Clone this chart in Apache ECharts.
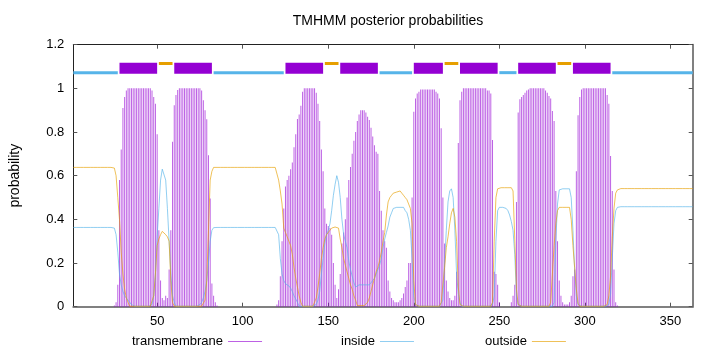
<!DOCTYPE html>
<html><head><meta charset="utf-8">
<script src="https://cdn.jsdelivr.net/npm/echarts@6/dist/echarts.min.js"></script>
<style>html,body{margin:0;padding:0;background:#fff}#c{width:720px;height:352px}</style>
</head><body><div id="c"></div>
<script>
const chartTitle = 'TMHMM posterior probabilities';
const yName = 'probability';
const seriesNames = ['transmembrane', 'inside', 'outside'];
const xTicks = [50, 100, 150, 200, 250, 300, 350];
const xMin = 1, xMax = 363;
const yMin = 0, yMax = 1.2, yStep = 0.2;

// posterior probability per residue (1..363)
const transmembrane = [
0,0,0,0,0,0,0,0,0,0,
0,0,0,0,0,0,0,0,0,0,
0,0,0,0,0.005,0.02,0.1,0.58,0.72,0.91,
0.96,0.99,1,1,1,1,1,1,1,1,
1,1,1,1,1,1,0.99,0.96,0.93,0.79,
0.35,0.12,0.04,0.03,0.05,0.04,0.17,0.35,0.755,0.923,
0.97,0.992,1,1,1,1,1,1,1,1,
1,1,1,1,1,0.99,0.946,0.9,0.858,0.694,
0.496,0.106,0.05,0.02,0.005,0,0,0,0,0,
0,0,0,0,0,0,0,0,0,0,
0,0,0,0,0,0,0,0,0,0,
0,0,0,0,0,0,0,0,0,0.01,
0.03,0.14,0.3,0.45,0.55,0.58,0.6,0.63,0.66,0.73,
0.79,0.86,0.88,0.92,0.985,1,1,1,1,1,
1,1,0.98,0.93,0.85,0.72,0.62,0.45,0.38,0.37,
0.36,0.33,0.2,0.1,0.04,0.08,0.15,0.29,0.34,0.4,
0.5,0.58,0.64,0.7,0.76,0.8,0.85,0.88,0.9,0.9,
0.9,0.89,0.87,0.855,0.82,0.78,0.74,0.71,0.7,0.53,
0.44,0.35,0.3,0.27,0.12,0.07,0.04,0.03,0.02,0.02,
0.02,0.03,0.04,0.06,0.09,0.12,0.2,0.2,0.5,0.893,
0.954,0.977,0.985,0.995,0.995,0.995,0.995,0.995,0.995,0.995,
0.995,0.995,0.985,0.977,0.954,0.817,0.5,0.29,0.12,0.07,
0.04,0.03,0.03,0.05,0.16,0.75,0.946,0.985,1,1,
1,1,1,1,1,1,1,1,1,1,
1,1,0.99,0.99,0.977,0.763,0.16,0.15,0.1,0.02,
0,0,0,0,0,0,0.02,0.05,0.1,0.48,
0.89,0.95,0.96,0.97,0.98,0.99,0.995,1,1,1,
1,1,1,1,1,1,0.99,0.98,0.965,0.954,
0.896,0.85,0.53,0.3,0.12,0.05,0.02,0.01,0.01,0.01,
0.02,0.05,0.14,0.17,0.62,0.877,0.96,0.995,1,1,
1,1,1,1,1,1,1,1,1,1,
1,1,0.97,0.93,0.69,0.53,0.17,0.02,0.005,0,
0,0,0,0,0,0,0,0,0,0,
0,0,0,0,0,0,0,0,0,0,
0,0,0,0,0,0,0,0,0,0,
0,0,0,0,0,0,0,0,0,0,
0,0,0
];
const inside = [
0.363,0.363,0.363,0.363,0.363,0.363,0.363,0.363,0.363,0.363,
0.363,0.363,0.363,0.363,0.363,0.363,0.363,0.363,0.363,0.363,
0.363,0.363,0.363,0.363,0.36,0.33,0.25,0.15,0.1,0.07,
0.05,0.04,0.03,0.02,0.01,0.002,0.002,0.002,0.002,0.002,
0.002,0.002,0.002,0.002,0.002,0.002,0.01,0.05,0.15,0.32,
0.45,0.58,0.63,0.63,0.58,0.45,0.3,0.15,0.05,0.02,
0.002,0.002,0.002,0.002,0.002,0.002,0.002,0.002,0.002,0.002,
0.002,0.002,0.002,0.002,0.01,0.02,0.04,0.07,0.12,0.2,
0.3,0.35,0.362,0.363,0.363,0.363,0.363,0.363,0.363,0.363,
0.363,0.363,0.363,0.363,0.363,0.363,0.363,0.363,0.363,0.363,
0.363,0.363,0.363,0.363,0.363,0.363,0.363,0.363,0.363,0.363,
0.363,0.363,0.363,0.363,0.363,0.363,0.363,0.363,0.363,0.36,
0.33,0.22,0.15,0.12,0.105,0.1,0.095,0.085,0.07,0.05,
0.035,0.02,0.002,0.002,0.002,0.002,0.002,0.002,0.002,0.002,
0.002,0.002,0.01,0.03,0.07,0.15,0.22,0.29,0.33,0.35,
0.38,0.44,0.51,0.56,0.6,0.57,0.5,0.4,0.33,0.3,
0.27,0.21,0.17,0.14,0.11,0.09,0.085,0.1,0.1,0.1,
0.1,0.1,0.1,0.1,0.105,0.12,0.13,0.15,0.17,0.19,
0.22,0.27,0.31,0.34,0.37,0.41,0.43,0.45,0.455,0.455,
0.455,0.455,0.455,0.455,0.44,0.43,0.4,0.35,0.22,0.05,
0.01,0.002,0.002,0.002,0.002,0.002,0.002,0.002,0.002,0.002,
0.002,0.002,0.002,0.002,0.002,0.005,0.03,0.2,0.35,0.48,
0.53,0.54,0.5,0.35,0.15,0.06,0.02,0.002,0.002,0.002,
0.002,0.002,0.002,0.002,0.002,0.002,0.002,0.002,0.002,0.002,
0.002,0.002,0.002,0.002,0.002,0.01,0.05,0.3,0.44,0.455,
0.455,0.455,0.455,0.45,0.44,0.42,0.39,0.35,0.24,0.05,
0.01,0.002,0.002,0.002,0.002,0.002,0.002,0.002,0.002,0.002,
0.002,0.002,0.002,0.002,0.002,0.002,0.002,0.002,0.002,0.002,
0.002,0.02,0.3,0.47,0.535,0.54,0.54,0.54,0.54,0.54,
0.54,0.5,0.35,0.17,0.05,0.01,0.002,0.002,0.002,0.002,
0.002,0.002,0.002,0.002,0.002,0.002,0.002,0.002,0.002,0.002,
0.002,0.002,0.002,0.01,0.06,0.22,0.38,0.44,0.455,0.458,
0.458,0.458,0.458,0.458,0.458,0.458,0.458,0.458,0.458,0.458,
0.458,0.458,0.458,0.458,0.458,0.458,0.458,0.458,0.458,0.458,
0.458,0.458,0.458,0.458,0.458,0.458,0.458,0.458,0.458,0.458,
0.458,0.458,0.458,0.458,0.458,0.458,0.458,0.458,0.458,0.458,
0.458,0.458,0.458
];
const outside = [
0.638,0.638,0.638,0.638,0.638,0.638,0.638,0.638,0.638,0.638,
0.638,0.638,0.638,0.638,0.638,0.638,0.638,0.638,0.638,0.638,
0.638,0.638,0.638,0.638,0.635,0.6,0.5,0.4,0.25,0.15,
0.08,0.04,0.02,0.002,0.002,0.002,0.002,0.002,0.002,0.002,
0.002,0.002,0.002,0.002,0.002,0.002,0.01,0.05,0.15,0.28,
0.31,0.33,0.345,0.35,0.33,0.32,0.3,0.12,0.02,0.002,
0.002,0.002,0.002,0.002,0.002,0.002,0.002,0.002,0.002,0.002,
0.002,0.002,0.002,0.002,0.002,0.002,0.01,0.03,0.12,0.35,
0.58,0.62,0.638,0.638,0.638,0.638,0.638,0.638,0.638,0.638,
0.638,0.638,0.638,0.638,0.638,0.638,0.638,0.638,0.638,0.638,
0.638,0.638,0.638,0.638,0.638,0.638,0.638,0.638,0.638,0.638,
0.638,0.638,0.638,0.638,0.638,0.638,0.638,0.638,0.638,0.638,
0.58,0.53,0.47,0.36,0.34,0.32,0.3,0.28,0.24,0.18,
0.13,0.09,0.05,0.02,0.002,0.002,0.002,0.002,0.002,0.002,
0.002,0.002,0.04,0.09,0.15,0.22,0.27,0.31,0.33,0.34,
0.35,0.36,0.36,0.365,0.37,0.36,0.31,0.27,0.22,0.19,
0.16,0.13,0.1,0.08,0.05,0.03,0.005,0.005,0.005,0.005,
0.005,0.005,0.02,0.04,0.07,0.1,0.13,0.16,0.18,0.21,
0.25,0.3,0.34,0.42,0.48,0.5,0.51,0.52,0.52,0.525,
0.53,0.53,0.52,0.51,0.5,0.49,0.47,0.45,0.38,0.12,
0.01,0.002,0.002,0.002,0.002,0.002,0.002,0.002,0.002,0.002,
0.002,0.002,0.002,0.002,0.002,0.02,0.1,0.18,0.27,0.32,
0.38,0.43,0.45,0.41,0.3,0.09,0.01,0.002,0.002,0.002,
0.002,0.002,0.002,0.002,0.002,0.002,0.002,0.002,0.002,0.002,
0.002,0.002,0.002,0.002,0.002,0.02,0.3,0.5,0.54,0.545,
0.545,0.545,0.545,0.545,0.545,0.545,0.545,0.53,0.31,0.08,
0.01,0.002,0.002,0.002,0.002,0.002,0.002,0.002,0.002,0.002,
0.002,0.002,0.002,0.002,0.002,0.002,0.002,0.002,0.002,0.02,
0.15,0.28,0.38,0.44,0.455,0.455,0.455,0.455,0.455,0.455,
0.455,0.4,0.28,0.18,0.08,0.015,0.002,0.002,0.002,0.002,
0.002,0.002,0.002,0.002,0.002,0.002,0.002,0.002,0.002,0.002,
0.002,0.002,0.01,0.05,0.14,0.32,0.45,0.52,0.535,0.541,
0.541,0.541,0.541,0.541,0.541,0.541,0.541,0.541,0.541,0.541,
0.541,0.541,0.541,0.541,0.541,0.541,0.541,0.541,0.541,0.541,
0.541,0.541,0.541,0.541,0.541,0.541,0.541,0.541,0.541,0.541,
0.541,0.541,0.541,0.541,0.541,0.541,0.541,0.541,0.541,0.541,
0.541,0.541,0.541
];

// predicted topology segments
const segStart = [1, 28, 51, 60, 83, 125, 148, 157, 180, 200, 218, 227, 250, 261, 284, 293, 316];
const segEnd   = [27, 50, 59, 82, 124, 147, 156, 179, 199, 217, 226, 249, 260, 283, 292, 315, 363];
const segType  = ['inside','TMhelix','outside','TMhelix','inside','TMhelix','outside','TMhelix','inside','TMhelix','outside','TMhelix','inside','TMhelix','outside','TMhelix','inside'];
const segLevelInside = 1.072, segLevelTM = 1.092, segLevelOutside = 1.114;

const FONT = '"Liberation Sans", Arial, sans-serif';
const C_TM = 'rgba(148,0,211,0.62)';
const C_IN = 'rgba(86,180,233,0.65)';
const C_OUT = 'rgba(230,159,0,0.65)';

const residues = transmembrane.map((_, i) => i + 1);
const tmData = residues.map((r, i) => [r, transmembrane[i]]);
const inData = residues.map((r, i) => [r, inside[i]]);
const outData = residues.map((r, i) => [r, outside[i]]);
const typeIdx = {inside: 0, TMhelix: 1, outside: 2};
const levels = [segLevelInside, segLevelTM, segLevelOutside];
const segData = segStart.map((s, i) => [s, segEnd[i], levels[typeIdx[segType[i]]], typeIdx[segType[i]]]);

const chart = echarts.init(document.getElementById('c'), null, {renderer: 'canvas'});

function xAxisDef(pos, show) {
  return {
    type: 'value', position: pos, min: xMin, max: xMax,
    axisLine: {show: true, onZero: false, lineStyle: pos === 'bottom' ? {color: '#808080', width: 2} : {color: '#222', width: 1}},
    axisTick: {show: true, inside: true, length: 4, customValues: xTicks, lineStyle: {color: '#555'}},
    axisLabel: {show: show, customValues: xTicks, margin: 8, fontSize: 13, color: '#000', fontFamily: FONT},
    splitLine: {show: false}
  };
}
function yAxisDef(pos, show) {
  return {
    type: 'value', position: pos, min: yMin, max: yMax, interval: yStep,
    name: show ? yName : '', nameLocation: 'middle', nameGap: 51, nameRotate: 90,
    nameTextStyle: {fontSize: 14, color: '#000', fontFamily: FONT},
    axisLine: {show: true, onZero: false, lineStyle: pos === 'right' ? {color: '#808080', width: 2} : {color: '#222', width: 1}},
    axisTick: {show: true, inside: true, length: 4, lineStyle: {color: '#555'}},
    axisLabel: {show: show, margin: 9, fontSize: 13, color: '#000', fontFamily: FONT,
      formatter: v => String(+(+v).toFixed(1))},
    splitLine: {show: false}
  };
}
function legendDef(name, left, color) {
  return {
    data: [{name: name, itemStyle: {color: color}}], left: left, top: 330, align: 'right',
    icon: 'rect', itemWidth: 34, itemHeight: 1, selectedMode: false,
    textStyle: {fontSize: 13, color: '#000', fontFamily: FONT}
  };
}

chart.setOption({
  animation: false,
  backgroundColor: '#fff',
  title: {text: chartTitle, left: 383, top: 9, textAlign: 'center',
    textStyle: {fontSize: 14, fontWeight: 'normal', color: '#000', fontFamily: FONT}},
  grid: {left: 73.3, top: 44.7, width: 619.4, height: 262, containLabel: false, outerBoundsMode: 'none'},
  xAxis: [xAxisDef('bottom', true), xAxisDef('top', false)],
  yAxis: [yAxisDef('left', true), yAxisDef('right', false)],
  legend: [legendDef(seriesNames[0], 127, C_TM), legendDef(seriesNames[1], 336, C_IN), legendDef(seriesNames[2], 480, C_OUT)],
  series: [
    {name: seriesNames[0], type: 'bar', data: tmData, barWidth: 1, itemStyle: {color: C_TM}, z: 2},
    {name: seriesNames[1], type: 'line', data: inData, showSymbol: false, symbol: 'none',
      lineStyle: {width: 1, color: C_IN}, itemStyle: {color: C_IN}, z: 3},
    {name: seriesNames[2], type: 'line', data: outData, showSymbol: false, symbol: 'none',
      lineStyle: {width: 1, color: C_OUT}, itemStyle: {color: C_OUT}, z: 4},
    {type: 'custom', data: segData, encode: {x: [0, 1], y: 2}, z: 5, clip: false,
      renderItem: function (params, api) {
        const t = api.value(3);
        const p1 = api.coord([api.value(0), api.value(2)]);
        const p2 = api.coord([api.value(1), api.value(2)]);
        const h = t === 1 ? 11 : 3;
        const fill = t === 1 ? '#9400d3' : (t === 0 ? '#56b4e9' : '#e69f00');
        return {type: 'rect', shape: {x: p1[0], y: p1[1] - h / 2, width: p2[0] - p1[0], height: h},
          style: {fill: fill}};
      }}
  ]
});
</script></body></html>
